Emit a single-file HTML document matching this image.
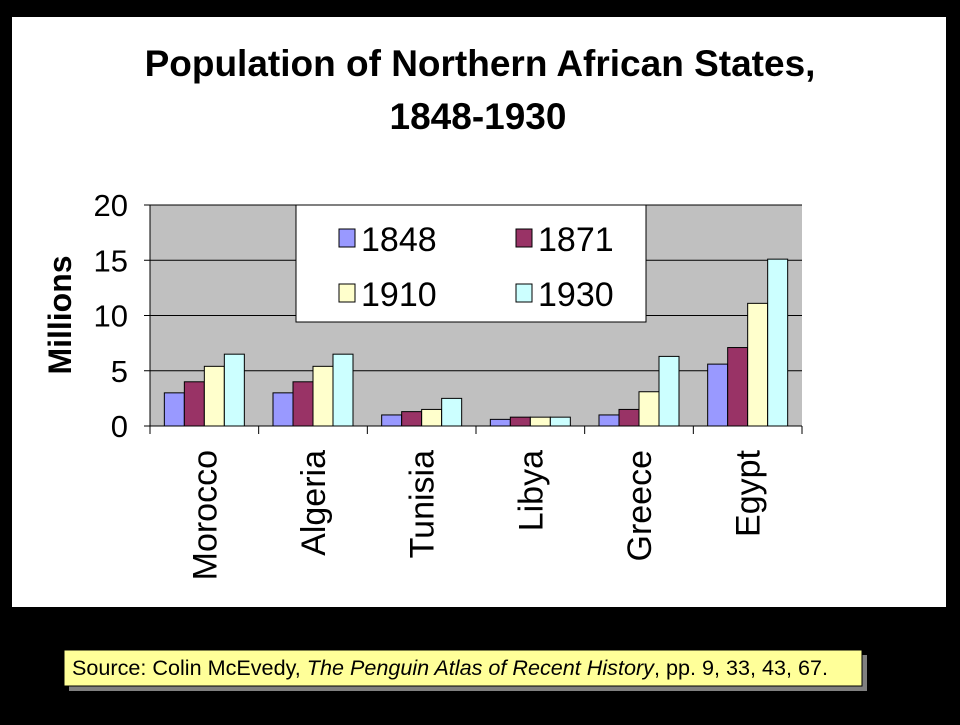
<!DOCTYPE html>
<html><head><meta charset="utf-8"><style>
body{margin:0;background:#000;width:960px;height:720px;overflow:hidden;font-family:"Liberation Sans",Arial,sans-serif}
</style></head><body>
<svg width="960" height="720" xmlns="http://www.w3.org/2000/svg">
<rect x="12" y="17" width="934" height="590" fill="#fff"/>
<text x="480" y="76" font-size="37" font-weight="bold" text-anchor="middle">Population of Northern African States,</text>
<text x="478" y="129" font-size="37" font-weight="bold" text-anchor="middle">1848-1930</text>
<rect x="150" y="205" width="652" height="221" fill="#c0c0c0"/>
<g id="grid"></g><g id="bars"></g><g id="axes"></g>
<text transform="translate(71,315) rotate(-90)" font-size="32" font-weight="bold" text-anchor="middle">Millions</text>
<g>
<rect x="296" y="205" width="350" height="117" fill="#fff" stroke="#000" stroke-width="1"/>
<rect x="339" y="229" width="16" height="18" fill="#9999ff" stroke="#000"/><text x="361" y="251" font-size="34">1848</text>
<rect x="516" y="229" width="16" height="18" fill="#993366" stroke="#000"/><text x="538" y="251" font-size="34">1871</text>
<rect x="339" y="284" width="16" height="18" fill="#ffffcc" stroke="#000"/><text x="361" y="306" font-size="34">1910</text>
<rect x="516" y="284" width="16" height="18" fill="#ccffff" stroke="#000"/><text x="538" y="306" font-size="34">1930</text>
</g>
<rect x="69" y="655" width="798" height="36" fill="#808080"/>
<rect x="64" y="650" width="798" height="36" fill="#ffff99" stroke="#000" stroke-width="1"/>
<text x="72" y="675" font-size="21" textLength="756" lengthAdjust="spacingAndGlyphs">Source:  Colin McEvedy, <tspan font-style="italic">The Penguin Atlas of Recent History</tspan>, pp. 9, 33, 43, 67.</text>
</svg>
<script>
const categories=["Morocco","Algeria","Tunisia","Libya","Greece","Egypt"];
const s1848=[3.0,3.0,1.0,0.6,1.0,5.6];
const s1871=[4.0,4.0,1.3,0.8,1.5,7.1];
const s1910=[5.4,5.4,1.5,0.8,3.1,11.1];
const s1930=[6.5,6.5,2.5,0.8,6.3,15.1];
const yTicks=[0,5,10,15,20];
const NS="http://www.w3.org/2000/svg";
const X0=150,X1=802,Y0=426,Y1=205,YMAX=20;
const y=v=>Y0-(v/YMAX)*(Y0-Y1);
const cw=(X1-X0)/categories.length;
function mk(t,a,p){const e=document.createElementNS(NS,t);for(const k in a)e.setAttribute(k,a[k]);p.appendChild(e);return e;}
const grid=document.getElementById('grid'),bars=document.getElementById('bars'),axes=document.getElementById('axes');
yTicks.forEach(t=>{
 const l=mk('line',{x1:X0,x2:X1,y1:y(t),y2:y(t),stroke:'#000','stroke-width':1},grid);
 
 
 mk('line',{x1:X0-6,x2:X0,y1:y(t),y2:y(t),stroke:'#000'},axes);
 const tx=mk('text',{x:128,y:y(t)+11,'font-size':31,'text-anchor':'end'},axes);
 tx.textContent=t;
 
 
});
mk('line',{x1:X0,x2:X0,y1:Y1,y2:Y0,stroke:'#000'},axes);
const series=[s1848,s1871,s1910,s1930],colors=["#9999ff","#993366","#ffffcc","#ccffff"],names=["1848","1871","1910","1930"];
const bw=20;
categories.forEach((c,i)=>{
 const gx=X0+i*cw+(cw-4*bw)/2;
 series.forEach((s,j)=>{
  const r=mk('rect',{x:gx+j*bw,y:y(s[i]),width:bw,height:Y0-y(s[i]),fill:colors[j],stroke:'#000','stroke-width':1},bars);
  
  
 });
 mk('line',{x1:X0+i*cw,x2:X0+i*cw,y1:Y0,y2:Y0+8,stroke:'#000'},axes);
 const t=mk('text',{transform:`translate(${X0+i*cw+cw/2+12},450) rotate(-90)`,'font-size':34,'text-anchor':'end'},axes);
 t.textContent=c;
 
 
});
mk('line',{x1:X1,x2:X1,y1:Y0,y2:Y0+8,stroke:'#000'},axes);
mk('line',{x1:X0,x2:X1,y1:Y0,y2:Y0,stroke:'#000'},axes);
</script>
</body></html>
